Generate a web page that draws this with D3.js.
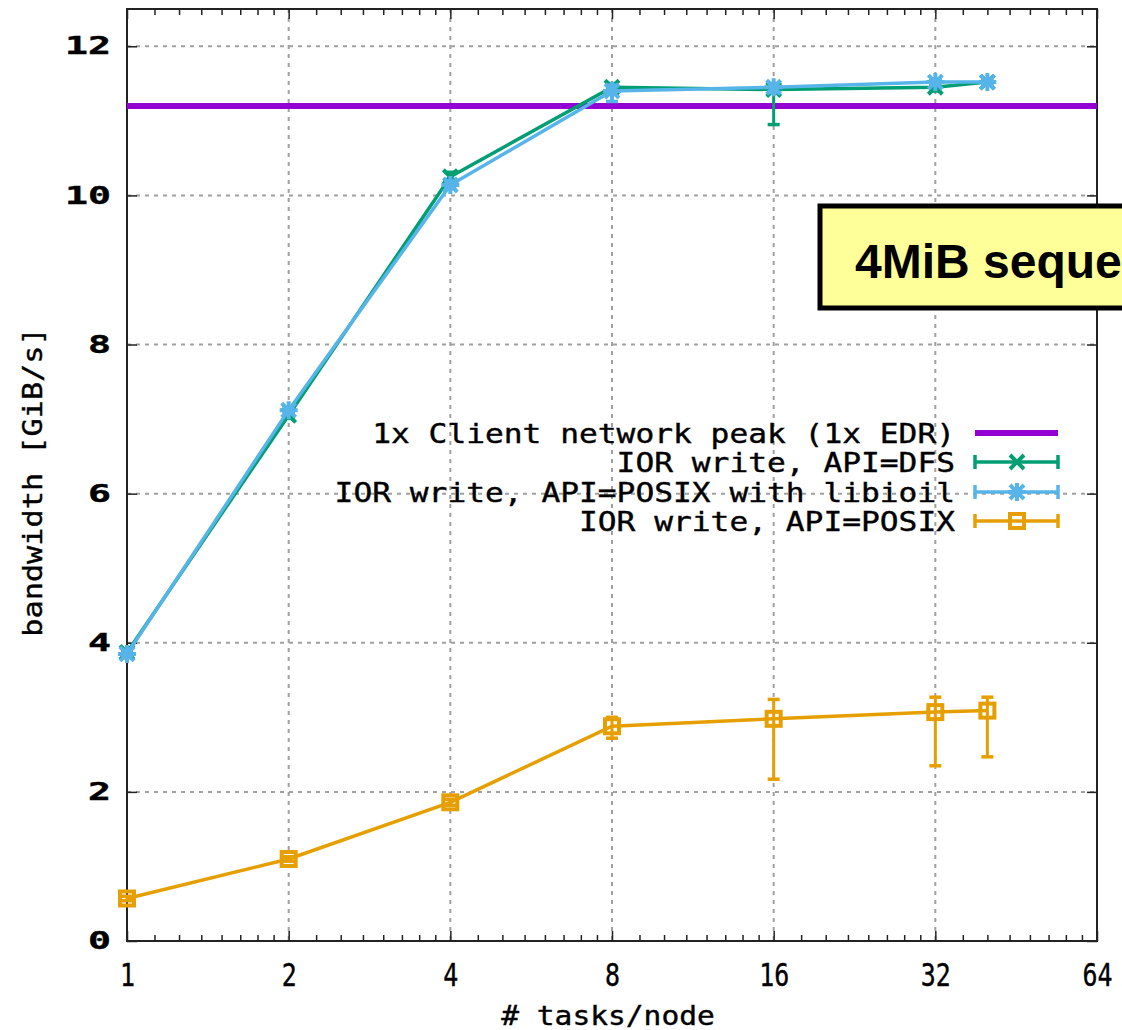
<!DOCTYPE html>
<html>
<head>
<meta charset="utf-8">
<script src="https://cdn.jsdelivr.net/npm/d3@7"></script>
<style>
  body { margin: 0; background: #fff; }
  svg { display: block; }
  .mono { font-family: "DejaVu Sans Mono", "Liberation Mono", monospace; fill: #000; stroke: #000; stroke-width: 0.4px; }
</style>
</head>
<body>
<div id="chart"></div>
<script>

// ---- data ----
var tasks = [1, 2, 4, 8, 16, 32, 40];

var dfsMean = [3.87, 7.05, 10.25, 11.45, 11.42, 11.45, 11.52];
var dfsLow  = [3.84, 7.01, 10.20, 11.40, 10.95, 11.40, 11.50];
var dfsHigh = [3.90, 7.10, 10.31, 11.50, 11.47, 11.50, 11.54];

var libMean = [3.85, 7.12, 10.14, 11.40, 11.45, 11.52, 11.52];
var libLow  = [3.80, 7.08, 10.09, 11.26, 11.38, 11.48, 11.49];
var libHigh = [3.90, 7.16, 10.19, 11.48, 11.50, 11.56, 11.55];

var posixMean = [0.57, 1.10, 1.86, 2.88, 2.98, 3.07, 3.09];
var posixLow  = [0.54, 1.07, 1.82, 2.72, 2.17, 2.35, 2.47];
var posixHigh = [0.60, 1.13, 1.90, 3.00, 3.24, 3.27, 3.27];

var peakValue = 11.2;

var xTicks = [1, 2, 4, 8, 16, 32, 64];
var yTicks = [0, 2, 4, 6, 8, 10, 12];

var legendLabels = [
  "1x Client network peak (1x EDR)",
  "IOR write, API=DFS",
  "IOR write, API=POSIX with libioil",
  "IOR write, API=POSIX"
];
var xTitle = "# tasks/node";
var yTitle = "bandwidth [GiB/s]";
var boxTitle = "4MiB sequential write";

// ---- setup ----
var W = 1122, H = 1030;
var margin = { top: 9, right: 25, bottom: 89, left: 127 };
var width = W - margin.left - margin.right,
    height = H - margin.top - margin.bottom;

var colors = { peak: "#9400d3", dfs: "#009e73", lib: "#56b4e9", posix: "#e69f00" };

var svg = d3.select("#chart").append("svg")
    .attr("width", W)
    .attr("height", H);

var g = svg.append("g")
    .attr("transform", "translate(" + margin.left + "," + margin.top + ")");

var x = d3.scaleLog().base(2).domain([1, 64]).range([0, width]);
var y = d3.scaleLinear().domain([0, 12.5]).range([height, 0]);

// grid
g.selectAll(".vgrid").data(xTicks.slice(1, -1)).enter().append("line")
    .attr("x1", function(d) { return x(d); }).attr("x2", function(d) { return x(d); })
    .attr("y1", 0).attr("y2", height)
    .attr("stroke", "#a0a0a0").attr("stroke-width", 2).attr("stroke-dasharray", "4,5");
g.selectAll(".hgrid").data(yTicks.slice(1)).enter().append("line")
    .attr("x1", 0).attr("x2", width)
    .attr("y1", function(d) { return y(d); }).attr("y2", function(d) { return y(d); })
    .attr("stroke", "#a0a0a0").attr("stroke-width", 2).attr("stroke-dasharray", "4,5");

// minor x ticks (log2, eighths)
var minor = [];
for (var p = 1; p < 64; p *= 2) {
  for (var k = 1; k < 8; k++) minor.push(p * (1 + k / 8));
}

function styleAxis(sel) {
  sel.select(".domain").remove();
  sel.selectAll(".tick line").attr("stroke", "#222").attr("stroke-width", 1.5);
}

var xAxis = d3.axisBottom(x).tickValues(xTicks).tickSize(-10).tickPadding(22)
    .tickFormat(d3.format("d"));
var xg = g.append("g").attr("transform", "translate(0," + height + ")").call(xAxis);
styleAxis(xg);
xg.selectAll("text").attr("class", "mono").style("font-size", "32px")
    .attr("textLength", function(d) { return String(d).length * 15; })
    .attr("lengthAdjust", "spacingAndGlyphs");

g.append("g").attr("transform", "translate(0," + height + ")")
    .call(d3.axisBottom(x).tickValues(minor).tickSize(-6).tickFormat(""))
    .call(styleAxis);
g.append("g")
    .call(d3.axisTop(x).tickValues(xTicks).tickSize(-10).tickFormat(""))
    .call(styleAxis);
g.append("g")
    .call(d3.axisTop(x).tickValues(minor).tickSize(-6).tickFormat(""))
    .call(styleAxis);

var yAxis = d3.axisLeft(y).tickValues(yTicks).tickSize(-10).tickPadding(16);
var yg = g.append("g").call(yAxis);
styleAxis(yg);
yg.selectAll("text").attr("class", "mono").style("font-size", "24px").style("font-weight", "bold")
    .attr("textLength", function(d) { return String(d).length * 23; })
    .attr("lengthAdjust", "spacingAndGlyphs");

g.append("g").attr("transform", "translate(" + width + ",0)")
    .call(d3.axisRight(y).tickValues(yTicks).tickSize(-10).tickFormat(""))
    .call(styleAxis);

// frame
g.append("rect").attr("width", width).attr("height", height)
    .attr("fill", "none").attr("stroke", "#222").attr("stroke-width", 2);

// axis titles
svg.append("text").attr("class", "mono")
    .attr("x", margin.left + x(8) - 4).attr("y", 1025)
    .attr("text-anchor", "middle").style("font-size", "27px")
    .attr("textLength", xTitle.length * 17.8).attr("lengthAdjust", "spacingAndGlyphs")
    .text(xTitle);

svg.append("text").attr("class", "mono")
    .attr("transform", "translate(42,482) rotate(-90)")
    .attr("text-anchor", "middle").style("font-size", "27px")
    .attr("textLength", yTitle.length * 18.2).attr("lengthAdjust", "spacingAndGlyphs")
    .text(yTitle);

// markers
function drawMarker(sel, type, color) {
  if (type === "cross" || type === "star") {
    sel.append("path").attr("d", "M-7,-7L7,7M-7,7L7,-7")
      .attr("stroke", color).attr("stroke-width", 4).attr("fill", "none");
  }
  if (type === "star") {
    sel.append("path").attr("d", "M-9,0L9,0M0,-9L0,9")
      .attr("stroke", color).attr("stroke-width", 4).attr("fill", "none");
  }
  if (type === "square") {
    sel.append("rect").attr("x", -7).attr("y", -7).attr("width", 14).attr("height", 14)
      .attr("stroke", color).attr("stroke-width", 4).attr("fill", "none");
  }
}

var line = d3.line()
    .x(function(d) { return x(d.t); })
    .y(function(d) { return y(d.v); });

// network peak line
g.append("line")
    .attr("x1", 0).attr("x2", width)
    .attr("y1", y(peakValue)).attr("y2", y(peakValue))
    .attr("stroke", colors.peak).attr("stroke-width", 6);

var series = [
  { mean: dfsMean, low: dfsLow, high: dfsHigh, color: colors.dfs, marker: "cross" },
  { mean: libMean, low: libLow, high: libHigh, color: colors.lib, marker: "star" },
  { mean: posixMean, low: posixLow, high: posixHigh, color: colors.posix, marker: "square" }
];

series.forEach(function(s) {
  var pts = tasks.map(function(t, i) {
    return { t: t, v: s.mean[i], lo: s.low[i], hi: s.high[i] };
  });
  var sg = g.append("g");
  sg.append("path").datum(pts).attr("d", line)
    .attr("fill", "none").attr("stroke", s.color).attr("stroke-width", 3.5);

  var eb = sg.selectAll(".eb").data(pts).enter().append("g");
  eb.append("line")
    .attr("x1", function(d) { return x(d.t); }).attr("x2", function(d) { return x(d.t); })
    .attr("y1", function(d) { return y(d.lo); }).attr("y2", function(d) { return y(d.hi); })
    .attr("stroke", s.color).attr("stroke-width", 3);
  ["lo", "hi"].forEach(function(key) {
    eb.append("line")
      .attr("x1", function(d) { return x(d.t) - 6; }).attr("x2", function(d) { return x(d.t) + 6; })
      .attr("y1", function(d) { return y(d[key]); }).attr("y2", function(d) { return y(d[key]); })
      .attr("stroke", s.color).attr("stroke-width", 3.5);
  });

  sg.selectAll(".mk").data(pts).enter().append("g")
    .attr("transform", function(d) { return "translate(" + x(d.t) + "," + y(d.v) + ")"; })
    .each(function() { drawMarker(d3.select(this), s.marker, s.color); });
});

// legend
var legendRows = [433, 462, 492, 521];
var legendItems = [
  { color: colors.peak, marker: null, thick: 6 },
  { color: colors.dfs, marker: "cross", thick: 3.5 },
  { color: colors.lib, marker: "star", thick: 3.5 },
  { color: colors.posix, marker: "square", thick: 3.5 }
];
legendItems.forEach(function(it, i) {
  var ly = legendRows[i];
  svg.append("text").attr("class", "mono")
    .attr("x", 955).attr("y", ly + 10)
    .attr("text-anchor", "end").style("font-size", "27px")
    .attr("textLength", legendLabels[i].length * 18.8).attr("lengthAdjust", "spacingAndGlyphs")
    .text(legendLabels[i]);
  var lg = svg.append("g").attr("transform", "translate(0," + ly + ")");
  lg.append("line").attr("x1", 975).attr("x2", 1058).attr("y1", 0).attr("y2", 0)
    .attr("stroke", it.color).attr("stroke-width", it.thick);
  if (it.marker) {
    [975, 1058].forEach(function(cx) {
      lg.append("line").attr("x1", cx).attr("x2", cx).attr("y1", -7).attr("y2", 7)
        .attr("stroke", it.color).attr("stroke-width", 3.5);
    });
    drawMarker(lg.append("g").attr("transform", "translate(1017,0)"), it.marker, it.color);
  }
});

// title box (runs past the right edge, as in the reference)
var box = svg.append("g").attr("transform", "translate(820,206)");
box.append("rect").attr("width", 400).attr("height", 102)
    .attr("fill", "#ffff99").attr("stroke", "#000").attr("stroke-width", 5);
box.append("text")
    .attr("x", 35).attr("y", 72)
    .style("font-family", "'Liberation Sans', Arial, sans-serif")
    .style("font-weight", "bold").style("font-size", "48px")
    .text(boxTitle);

</script>
</body>
</html>
